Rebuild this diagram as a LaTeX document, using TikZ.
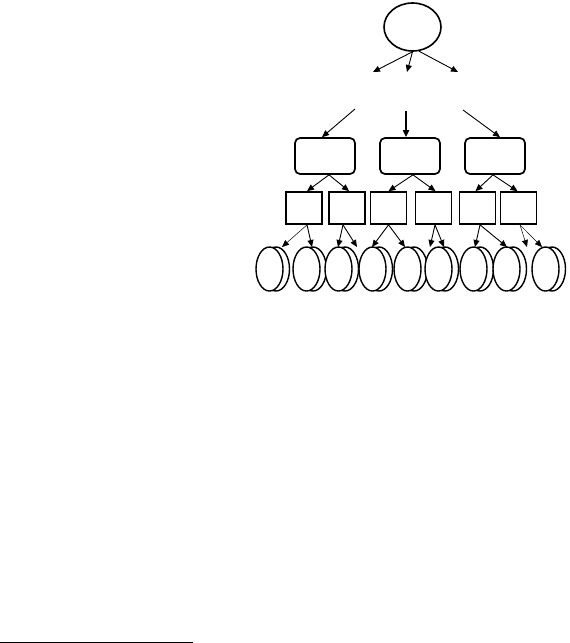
\documentclass[tikz,border=0pt]{standalone}
\usetikzlibrary{shapes.geometric,arrows.meta}
\begin{document}
\begin{tikzpicture}[x=1pt,y=-1pt,
  arr/.style={-{Triangle[length=7pt,width=6pt]}, line width=0.9pt},
  rbox/.style={draw, line width=1.7pt, rounded corners=5pt, minimum width=60pt, minimum height=36pt, inner sep=0pt},
  sbox/.style={draw, line width=1.7pt, minimum width=36pt, minimum height=32pt, inner sep=0pt},
  disk/.style={draw, ellipse, fill=white, line width=1.4pt, minimum width=27pt, minimum height=44pt, inner sep=0pt}]
\useasboundingbox (0,0) rectangle (570,643);
% top ellipse
\node[draw, ellipse, line width=1.6pt, minimum width=57pt, minimum height=48pt, inner sep=0pt] (top) at (412.5,27) {};
\coordinate (a1) at (373,72);
\coordinate (a2) at (407,72);
\coordinate (a3) at (458,72);
\draw[arr] (top.south) -- (a1);
\draw[arr] (top.south) -- (a2);
\draw[arr] (top.-75) -- (a3);
% rounded boxes
\node[rbox] (r1) at (325,156) {};
\node[rbox] (r2) at (410,156) {};
\node[rbox] (r3) at (495,156) {};
\coordinate (b1) at (355,109);
\coordinate (b2) at (406,111);
\coordinate (b3) at (463,110);
\draw[arr] (b1) -- ([xshift=-3pt]r1.north);
\draw[arr, line width=2pt] (b2) -- ([xshift=-4pt]r2.north);
\draw[arr] (b3) -- ([xshift=5pt]r3.north);
% small boxes
\node[sbox] (s1) at (304,208) {};
\node[sbox] (s2) at (347,208) {};
\node[sbox] (s3) at (388.5,208) {};
\node[sbox] (s4) at (433.5,208) {};
\node[sbox] (s5) at (477.5,208) {};
\node[sbox] (s6) at (518.5,208) {};
\draw[arr] ([xshift=4pt]r1.south) -- ([xshift=3pt]s1.north);
\draw[arr] ([xshift=4pt]r1.south) -- ([xshift=2pt]s2.north);
\draw[arr] ([xshift=3pt]r2.south) -- ([xshift=0pt]s3.north);
\draw[arr] ([xshift=3pt]r2.south) -- ([xshift=2pt]s4.north);
\draw[arr] ([xshift=-2pt]r3.south) -- ([xshift=-2pt]s5.north);
\draw[arr] ([xshift=-2pt]r3.south) -- ([xshift=-1pt]s6.north);
% disks
\foreach \i/\x in {1/269.5,2/306.5,3/338.5,4/372.5,5/407.5,6/438.5,7/473.5,8/506.5,9/545.5}{
  \node[disk] (d\i b) at (\x+6.5,269) {};
  \node[disk] (d\i) at (\x,269) {};
}
\coordinate (t1) at (282,247);
\coordinate (t2) at (312,247);
\coordinate (t3) at (338,247);
\coordinate (t4) at (357,247);
\coordinate (t5) at (372,247);
\coordinate (t6) at (405,247);
\coordinate (t7) at (430,247);
\coordinate (t8) at (444,247);
\coordinate (t9) at (475,247);
\coordinate (t10) at (507,247);
\coordinate (t11) at (527,247);
\coordinate (t12) at (542,247);
\draw[arr, line width=0.5pt] ([xshift=3pt]s1.south) -- (t1);
\draw[arr] ([xshift=3pt]s1.south) -- (t2);
\draw[arr] ([xshift=-4pt]s2.south) -- (t3);
\draw[arr] ([xshift=-4pt]s2.south) -- (t4);
\draw[arr] ([xshift=0pt]s3.south) -- (t5);
\draw[arr] ([xshift=0pt]s3.south) -- (t6);
\draw[arr] ([xshift=1.5pt]s4.south) -- (t7);
\draw[arr] ([xshift=1.5pt]s4.south) -- (t8);
\draw[arr] ([xshift=2.5pt]s5.south) -- (t9);
\draw[arr] ([xshift=2.5pt]s5.south) -- (t10);
\draw[arr, line width=0.5pt] ([xshift=1.5pt]s6.south) -- (t11);
\draw[arr, line width=0.5pt] ([xshift=1.5pt]s6.south) -- (t12);
% footnote rule
\coordinate (f1) at (0,642);
\coordinate (f2) at (193,642);
\draw[line width=1pt] (f1) -- (f2);
\end{tikzpicture}
\end{document}
